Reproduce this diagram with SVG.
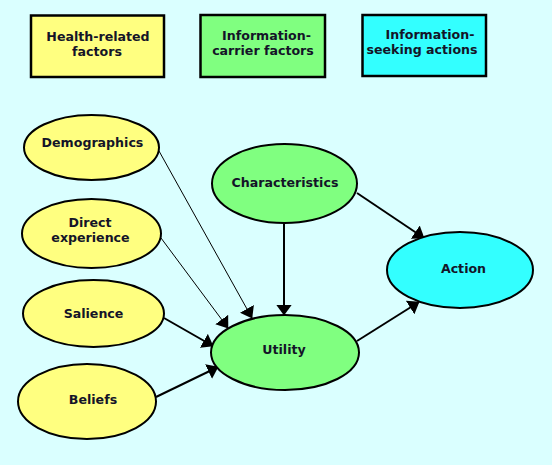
<svg xmlns="http://www.w3.org/2000/svg" width="552" height="465" viewBox="0 0 552 465">
<defs>
<style>
.t{font-family:"DejaVu Sans","Liberation Sans",sans-serif;font-weight:bold;font-size:12.6px;fill:#141428;text-anchor:middle}
.box{stroke:#000;stroke-width:2.5}
.ell{stroke:#000;stroke-width:2}
.thin{stroke:#000;stroke-width:1;fill:none}
.thick{stroke:#000;stroke-width:2;fill:none}
.y{fill:#FFFF80}.g{fill:#80FF80}.c{fill:#33FFFF}
</style>
<marker id="ah" markerUnits="userSpaceOnUse" markerWidth="11" markerHeight="16" viewBox="0 0 11 16" refX="10.5" refY="8" orient="auto">
<path d="M0,0 L11,8 L0,16 z" fill="#000"/>
</marker>
</defs>
<rect width="552" height="465" fill="#DAFFFF"/>
<g id="legend-health">
<rect class="box y" x="31" y="15.5" width="133" height="61.5"/>
<text class="t" x="98" y="41">Health-related</text>
<text class="t" x="97" y="56">factors</text>
</g>
<g id="legend-carrier">
<rect class="box g" x="200.5" y="15" width="124.5" height="62"/>
<text class="t" x="266.5" y="40">Information-</text>
<text class="t" x="263" y="55">carrier factors</text>
</g>
<g id="legend-seeking">
<rect class="box c" x="362.5" y="15" width="123.5" height="61"/>
<text class="t" x="430" y="39">Information-</text>
<text class="t" x="422" y="54">seeking actions</text>
</g>
<g id="connectors">
<line class="thin" x1="159" y1="151" x2="252" y2="318" marker-end="url(#ah)"/>
<line class="thin" x1="161" y1="238" x2="228" y2="328" marker-end="url(#ah)"/>
<line class="thick" x1="164" y1="318" x2="213" y2="346" marker-end="url(#ah)"/>
<line class="thick" x1="156" y1="397" x2="218" y2="367" marker-end="url(#ah)"/>
<line class="thick" x1="284" y1="223" x2="284" y2="315" marker-end="url(#ah)"/>
<line class="thick" x1="357" y1="193" x2="424" y2="238" marker-end="url(#ah)"/>
<line class="thick" x1="357" y1="341" x2="419" y2="302" marker-end="url(#ah)"/>
</g>
<g id="demographics">
<ellipse class="ell y" cx="91.5" cy="147.5" rx="67.5" ry="32.5"/>
<text class="t" x="92.5" y="147">Demographics</text>
</g>
<g id="direct-experience">
<ellipse class="ell y" cx="91.5" cy="233.5" rx="69.5" ry="34.5"/>
<text class="t" x="90" y="227">Direct</text>
<text class="t" x="90.5" y="242">experience</text>
</g>
<g id="salience">
<ellipse class="ell y" cx="93.5" cy="313.5" rx="70.5" ry="33.5"/>
<text class="t" x="93.5" y="318">Salience</text>
</g>
<g id="beliefs">
<ellipse class="ell y" cx="87" cy="401.5" rx="69" ry="37.5"/>
<text class="t" x="93" y="404">Beliefs</text>
</g>
<g id="characteristics">
<ellipse class="ell g" cx="284.5" cy="183.5" rx="72.5" ry="39.5"/>
<text class="t" x="285" y="187">Characteristics</text>
</g>
<g id="utility">
<ellipse class="ell g" cx="285" cy="352.5" rx="74" ry="37.5"/>
<text class="t" x="284" y="354">Utility</text>
</g>
<g id="action">
<ellipse class="ell c" cx="460" cy="270" rx="73" ry="38"/>
<text class="t" x="463.5" y="273">Action</text>
</g>
</svg>
